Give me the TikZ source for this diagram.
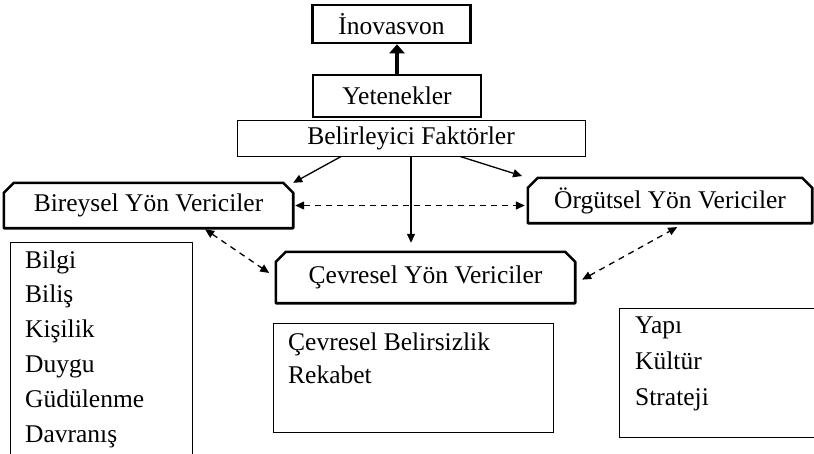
\documentclass[tikz,border=0pt]{standalone}
\usepackage{fontspec}
\setmainfont{Liberation Serif}
\usetikzlibrary{calc, arrows.meta}

\newcommand{\cutframe}[1]{\draw[line width=2.6pt, line join=round]
  (#1.south west)--($(#1.north west)+(0,10)$)--($(#1.north west)+(10,0)$)
  --($(#1.north east)+(-10,0)$)--($(#1.north east)+(0,10)$)--(#1.south east)--cycle;}

\tikzset{
  thickbox/.style={draw, line width=2.6pt, minimum width=#1, inner sep=0pt},
  cutbox/.style={inner sep=0pt},
  listbox/.style={draw, line width=0.8pt, inner sep=0pt},
  item/.style={anchor=base west, inner sep=0pt},
  arr/.style={line width=1.3pt, -{Triangle[length=9pt,width=8pt]}},
  darr/.style={line width=1.3pt, dash pattern=on 6pt off 5pt, {Triangle[length=9pt,width=8pt]}-{Triangle[length=9pt,width=8pt]}}
}

\begin{document}
\begin{tikzpicture}[x=1pt, y=-1pt, font=\fontsize{25.5}{30}\selectfont]
\useasboundingbox (0,0) rectangle (814,453);

\node[thickbox=158, minimum height=38](ino) at (391.5,24) {İnovasvon};
\node[thickbox=168, minimum height=42](yet) at (397,96) {Yetenekler};
\node[listbox, minimum width=348, minimum height=36](bel) at (411,138) {Belirleyici Faktörler};

\node[cutbox, minimum width=289, minimum height=45](bir) at (148.5,205.5) {Bireysel Yön Vericiler};
\node[cutbox, minimum width=284, minimum height=45](org) at (670,200.5) {Örgütsel Yön Vericiler};
\node[cutbox, minimum width=299, minimum height=51](cev) at (425.5,277.5) {Çevresel Yön Vericiler};
\cutframe{bir}
\cutframe{org}
\cutframe{cev}

\draw[line width=4.5pt, -{Triangle[length=9pt,width=15pt]}](yet.north)--(yet.north |- ino.south);
\draw[blue!55!black, line width=0.8pt, shorten >=10pt](yet.north)--(yet.north |- ino.south);

\draw[arr]($(bel.south west)!0.30!(bel.south east)$)--(bir.north east);
\draw[arr, shorten >=9pt](bel.south)--(bel.south |- cev.north);
\draw[arr, shorten >=6pt]($(bel.south west)!0.64!(bel.south east)$)--(org.north west);

\draw[darr, shorten <=2pt, shorten >=3pt](bir.east)--(bir.east -| org.west);
\draw[darr, shorten <=2pt, shorten >=8pt]($(bir.south west)!0.69!(bir.south east)$)--(cev.west);
\draw[darr, shorten <=8pt, shorten >=8pt]($(cev.east)+(0,6)$)--($(org.south west)!0.55!(org.south east)$);

\node[listbox, minimum width=182, minimum height=216](blist) at (101,350) {};
\node[listbox, minimum width=280, minimum height=109](clist) at (413,377.5) {};
\node[listbox, minimum width=200, minimum height=129](olist) at (719,372.5) {};

\foreach \t [count=\i] in {Bilgi, Biliş, Kişilik, Duygu, Güdülenme, Davranış}
  \node[item](b\i) at (25,268+34.8*\i-34.8) {\t};
\foreach \t [count=\i] in {Çevresel Belirsizlik, Rekabet}
  \node[item](c\i) at (288,350+33*\i-33) {\t};
\foreach \t [count=\i] in {Yapı, Kültür, Strateji}
  \node[item](o\i) at (635,333+36*\i-36) {\t};
\end{tikzpicture}
\end{document}
